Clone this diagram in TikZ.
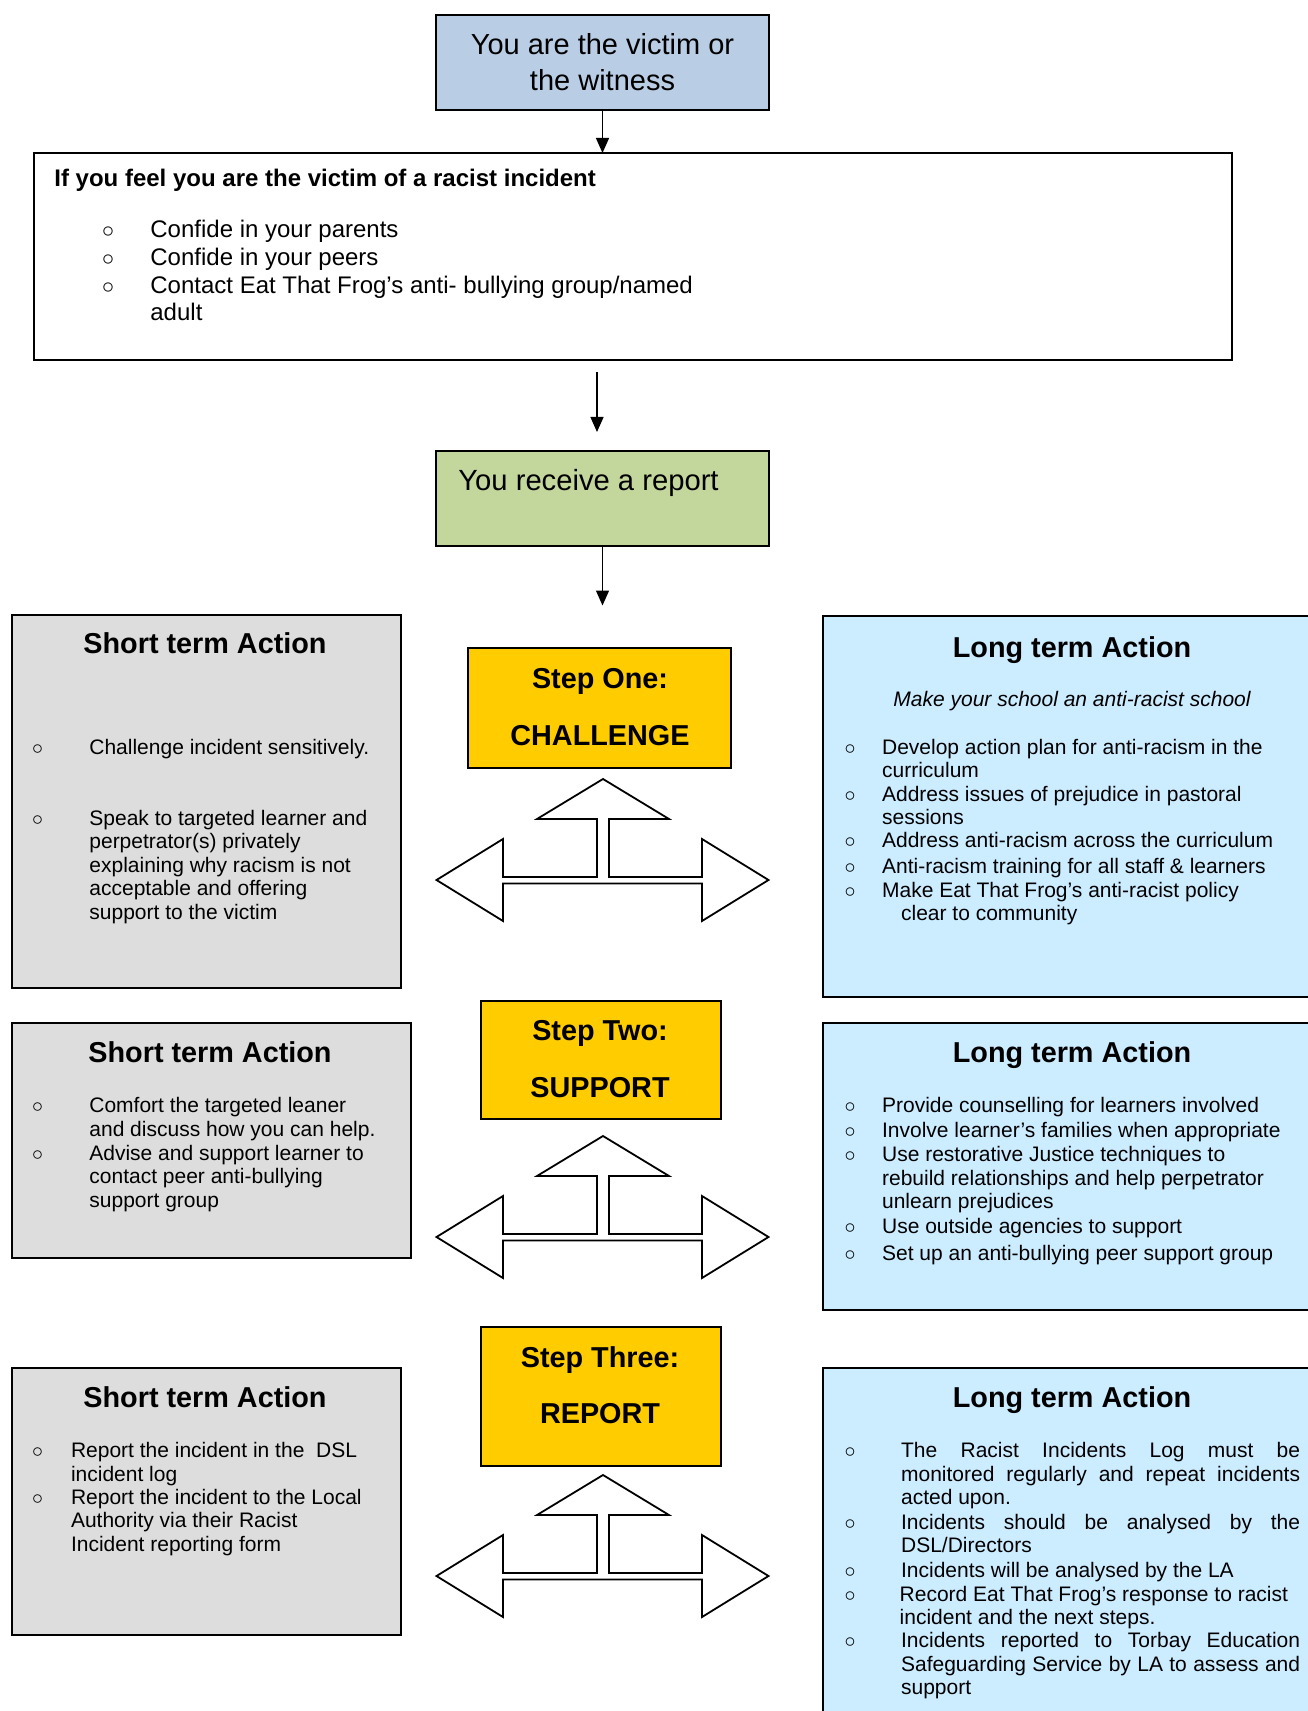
\documentclass[tikz,border=0pt]{standalone}
\usepackage{fontspec}
\setmainfont{Liberation Sans}
\usetikzlibrary{arrows.meta}
\definecolor{vicblue}{HTML}{B9CDE5}
\definecolor{repgreen}{HTML}{C3D69B}
\definecolor{stepgold}{HTML}{FFCC00}
\definecolor{shortgrey}{HTML}{DDDDDD}
\definecolor{longblue}{HTML}{CCECFF}
\newcommand{\just}[1]{\makebox[199.5pt][s]{#1}}
\newcommand{\lines}[1]{\begin{tabular}[t]{@{}l@{}}#1\end{tabular}}
\begin{document}
\begin{tikzpicture}[x=0.5pt,y=-0.5pt,
  box/.style={draw,line width=1pt,inner sep=0pt,outer sep=0pt,anchor=north west},
  arr/.style={-{Triangle[length=7.5pt,width=6.5pt]},line width=0.6pt},
  tri/.style={draw,line width=0.9pt,fill=white},
  body/.style={font=\fontsize{10.5}{11.8}\selectfont,anchor=base west,inner sep=0pt},
  big/.style={font=\fontsize{12}{13.8}\selectfont,anchor=base west,inner sep=0pt},
  head/.style={font=\fontsize{14.4}{17}\selectfont\bfseries,anchor=base,inner sep=0pt},
  bul/.style={anchor=base,inner sep=0pt}]
  \useasboundingbox (0,0) rectangle (1307,1711);
  \node[box,fill=vicblue,minimum width=166.5pt,minimum height=47.5pt,align=center,
    font=\fontsize{14.5}{17.9}\selectfont] (victim) at (436,15) {You are the victim or\\the witness};
  \node[box,minimum width=599.25pt,minimum height=103.5pt] (feel) at (33.5,153) {};
  \node[box,fill=repgreen,minimum width=166.5pt,minimum height=47.25pt] (report) at (436,451) {};
  \node[font=\fontsize{14.6}{18}\selectfont,anchor=base west,inner sep=0pt] (reportlbl) at (458,490.5) {You receive a report};
  \coordinate (chalin) at (602.5,605.5);
  \draw[arr] (victim.south) -- (victim.south |- feel.north);
  \draw[arr] ([xshift=-2.75pt,yshift=-6.25pt]report.north |- feel.south) -- ([xshift=-2.75pt,yshift=9.5pt]report.north);
  \draw[arr] (report) -- (chalin);
  \node[big,font=\fontsize{12}{13.8}\selectfont\bfseries] (feelhd) at (54,186.6) {If you feel you are the victim of a racist incident};
  \foreach \y/\txt [count=\i] in {238/{Confide in your parents}, 265.6/{Confide in your peers},
      293.3/{Contact Eat That Frog’s anti- bullying group/named\\adult}} {
    \node[bul,font=\fontsize{12}{13.8}\selectfont] (feelbul\i) at (108,\y) {$\circ$};
    \node[big] (feelitem\i) at (150,\y) {\lines{\txt}};
  }
  \node[box,fill=stepgold,minimum width=131.5pt,minimum height=60pt] (stepone) at (468,648) {};
  \node[box,fill=stepgold,minimum width=120pt,minimum height=59pt] (steptwo) at (481,1001) {};
  \node[box,fill=stepgold,minimum width=120pt,minimum height=69.5pt] (stepthree) at (481,1327) {};
  \foreach \n/\y/\a/\b in {one/688.7/Step One:/CHALLENGE, two/1040.4/Step Two:/SUPPORT, three/1367/Step Three:/REPORT} {
    \node[head] (step\n top) at (600,\y) {\a};
    \node[head] (step\n bot) at (600,\y+56.7) {\b};
  }
  \foreach \ty [count=\i] in {779,1136,1475}
    \draw[tri] (603,\ty) -- +(66,40) -- +(6,40) -- +(6,98) -- +(99,98) -- +(99,60) -- +(165.5,101)
      -- +(99,142) -- +(99,104.5) -- +(-100,104.5) -- +(-100,142) -- +(-166.5,101) -- +(-100,60)
      -- +(-100,98) -- +(-6,98) -- +(-6,40) -- +(-66,40) -- cycle;
  \node[box,fill=shortgrey,minimum width=194.75pt,minimum height=186.5pt] (shortone) at (11.5,615) {};
  \node[box,fill=shortgrey,minimum width=199.75pt,minimum height=117.5pt] (shorttwo) at (11.5,1023) {};
  \node[box,fill=shortgrey,minimum width=194.75pt,minimum height=133.5pt] (shortthree) at (11.5,1368) {};
  \node[box,fill=longblue,minimum width=244pt,minimum height=190.5pt] (longone) at (822.5,616) {};
  \node[box,fill=longblue,minimum width=244pt,minimum height=143.5pt] (longtwo) at (822.5,1023) {};
  \node[box,fill=longblue,minimum width=244pt,minimum height=180pt] (longthree) at (822.5,1368) {};
  \foreach \n/\x/\y in {one/205/653.7, two/210/1062, three/205/1407.7}
    \node[head] (shorthd\n) at (\x,\y) {Short term Action};
  \foreach \n/\y in {one/657, two/1062, three/1407}
    \node[head] (longhd\n) at (1072,\y) {Long term Action};
  \node[body,anchor=base,font=\fontsize{10.5}{11.8}\selectfont\itshape] (motto) at (1072,706.5) {Make your school an anti-racist school};
  \foreach \bx/\tx/\y/\txt [count=\i] in {
      37.6/89/754/{Challenge incident sensitively.},
      37.6/89/825/{Speak to targeted learner and\\perpetrator(s) privately\\explaining why racism is not\\acceptable and offering\\support to the victim},
      37.6/89/1112.5/{Comfort the targeted leaner\\and discuss how you can help.},
      37.6/89/1160/{Advise and support learner to\\contact peer anti-bullying\\support group},
      37.6/70.6/1457.5/{Report the incident in the\ \ DSL\\incident log},
      37.6/70.6/1504/{Report the incident to the Local\\Authority via their Racist\\Incident reporting form},
      850/881.7/754/{Develop action plan for anti-racism in the\\curriculum},
      850/881.7/801/{Address issues of prejudice in pastoral\\sessions},
      850/881.7/847.5/{Address anti-racism across the curriculum},
      850/881.7/873/{Anti-racism training for all staff \& learners},
      850/881.7/897/{Make Eat That Frog’s anti-racist policy\\\hspace*{9.5pt}clear to community},
      850/881.7/1112.5/{Provide counselling for learners involved},
      850/881.7/1137.5/{Involve learner’s families when appropriate},
      850/881.7/1161.5/{Use restorative Justice techniques to\\rebuild relationships and help perpetrator\\unlearn prejudices},
      850/881.7/1233.5/{Use outside agencies to support},
      850/881.7/1260/{Set up an anti-bullying peer support group},
      850/900.7/1457.5/{\just{The Racist Incidents Log must be}\\\just{monitored regularly and repeat incidents}\\acted upon.},
      850/900.7/1529/{\just{Incidents should be analysed by the}\\DSL/Directors},
      850/900.7/1577/{Incidents will be analysed by the LA},
      850/899.3/1601/{Record Eat That Frog’s response to racist\\incident and the next steps.},
      850/900.7/1647.5/{\just{Incidents reported to Torbay Education}\\\just{Safeguarding Service by LA to assess and}\\support}} {
    \node[bul,font=\fontsize{10.5}{11.8}\selectfont] (bul\i) at (\bx,\y) {$\circ$};
    \node[body] (item\i) at (\tx,\y) {\lines{\txt}};
  }
\end{tikzpicture}
\end{document}
